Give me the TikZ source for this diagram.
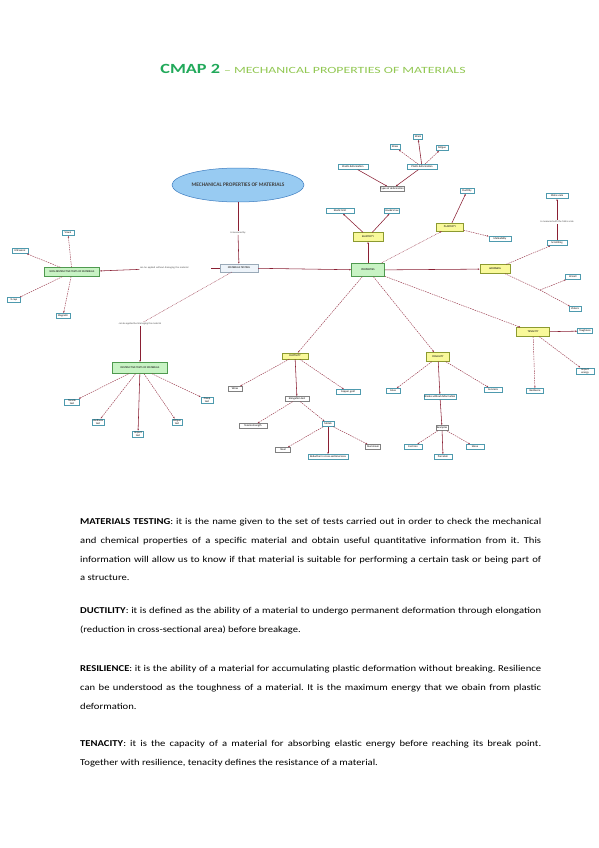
\documentclass[tikz,border=0pt]{standalone}
\usepackage{fontspec}
\setmainfont{Carlito}
\newfontfamily\bodyfont{Carlito}[FakeStretch=1.18,WordSpace={0.95,1,1.6}]
\newfontfamily\cmapfont{Carlito}[FakeStretch=1.3]
\newfontfamily\subtfont{Carlito}[FakeStretch=1.45]
\usetikzlibrary{arrows.meta,shadows,shapes.geometric}
\definecolor{lnk}{HTML}{8A1F33}
\definecolor{lnkl}{HTML}{9A3A4C}
\definecolor{leafc}{HTML}{4E9AAE}
\definecolor{greenf}{HTML}{C8F3C4}
\definecolor{greend}{HTML}{4F9A4F}
\definecolor{yellowf}{HTML}{F9F99A}
\definecolor{yellowd}{HTML}{8C9A30}
\definecolor{lightf}{HTML}{EEF4FA}
\definecolor{lightd}{HTML}{9AAAB8}
\definecolor{ellf}{HTML}{98CBF2}
\definecolor{elld}{HTML}{3C7CC0}
\definecolor{cmapg}{HTML}{21A95A}
\definecolor{titleg}{HTML}{92C853}
\tikzset{
  base/.style={inner sep=0.6pt, font=\fontsize{2.7}{3.1}\selectfont, align=center, line width=0.35pt, minimum height=5pt},
  shd/.style={drop shadow={shadow xshift=0.6pt,shadow yshift=-0.6pt,fill=black,opacity=0.8}},
  leaf/.style={base, shd, draw=leafc, fill=white},
  plainleaf/.style={base, shd, draw=black!50, fill=white},
  greenbox/.style={base, shd, draw=greend, fill=greenf, minimum height=9pt},
  yellowbox/.style={base, shd, draw=yellowd, fill=yellowf, minimum height=8pt},
  lightbox/.style={base, shd, draw=lightd, fill=lightf, minimum height=8pt},
  lbl/.style={inner sep=0.5pt, font=\fontsize{2.5}{3}\selectfont, fill=white, text=black!70},
  solidc/.style={draw=lnk, line width=0.55pt},
  dashc/.style={draw=lnkl, line width=0.45pt, dash pattern=on 1.5pt off 0.9pt},
  dotc/.style={draw=lnkl, line width=0.45pt, dash pattern=on 0.7pt off 0.8pt},
  tip/.style={-{Latex[length=2pt,width=1.6pt]}},
  para/.style={anchor=north west, text width=461pt, align=justify, inner sep=0pt, font=\bodyfont\fontsize{9}{18.65}\selectfont\frenchspacing},
}
\begin{document}
\begin{tikzpicture}[x=1pt,y=-1pt]
\useasboundingbox[fill=white] (0,0) rectangle (599,848);

% title
\node[anchor=base, inner sep=0] (title) at (313,74) {\cmapfont\fontsize{14}{16}\selectfont\bfseries\color{cmapg}CMAP 2 \subtfont\fontsize{9.5}{12}\selectfont\mdseries\color{titleg}– MECHANICAL PROPERTIES OF MATERIALS};

% main
\node[ellipse, draw=elld, fill=ellf, line width=0.5pt, minimum width=132pt, minimum height=34pt, inner sep=0pt, font=\fontsize{5.4}{6}\selectfont\bfseries, text=black!75] (mpm) at (238,185) {MECHANICAL PROPERTIES OF MATERIALS};
\node[lbl] (l1) at (238,233) {is measured by};
\node[lightbox, minimum width=38pt] (mt) at (239,268) {MATERIALS TESTING};
\node[lbl, text width=70pt] (l2) at (175,268) {can be applied without damaging the material};
\node[greenbox, minimum width=55pt] (ndt) at (72,272) {NON-DESTRUCTIVE TESTS OF MATERIALS};
\node[lbl] (l3) at (140,324) {can be applied but damaging the material};
\node[greenbox, minimum width=55pt, minimum height=11pt] (dt) at (140,368) {DESTRUCTIVE TESTS OF MATERIALS};

% non destructive children
\node[leaf, minimum width=12pt] (b1) at (68,233) {Visual};
\node[leaf, minimum width=16pt] (b2) at (20,251) {Ultrasonic};
\node[leaf, minimum width=13pt] (b3) at (14,300) {X-rays};
\node[leaf, minimum width=14pt] (b4) at (63,316) {Magnetic};

% destructive children
\node[leaf, minimum width=15pt] (c1) at (72,402) {Tensile\\test};
\node[leaf, minimum width=12pt] (c2) at (98,422) {Hardness\\test};
\node[leaf, minimum width=11pt] (c3) at (138,434) {Impact\\test};
\node[leaf, minimum width=10pt] (c4) at (177,422) {Fatigue\\test};
\node[leaf, minimum width=12pt] (c5) at (207,400) {Creep\\test};

% properties hub
\node[greenbox, minimum width=33pt, minimum height=13pt] (prop) at (368,270) {PROPERTIES};

% elasticity
\node[yellowbox, minimum width=30pt, minimum height=9pt] (el) at (368,237) {ELASTICITY};
\node[leaf, minimum width=28pt] (e1) at (340,211) {Elastic limit};
\node[leaf, minimum width=15pt] (e2) at (392,211) {Hooke's law};
\node[plainleaf, minimum width=24pt] (t0) at (392,189) {Types of deformation};
\node[leaf, minimum width=30pt] (t1) at (353,167) {Elastic deformation};
\node[leaf, minimum width=30pt] (t2) at (422,167) {Plastic deformation};
\node[leaf, minimum width=10pt] (t2a) at (395,147) {Stress};
\node[leaf, minimum width=9pt] (t2b) at (418,137) {Strain};
\node[leaf, minimum width=12pt] (t2c) at (442,148) {Fatigue};

% plasticity
\node[yellowbox, minimum width=27pt] (pl) at (450,227) {PLASTICITY};
\node[leaf, minimum width=14pt] (f1) at (467,191) {Ductility};
\node[leaf, minimum width=22pt] (f2) at (500,239) {Malleability};

% hardness
\node[yellowbox, minimum width=30pt, minimum height=9pt] (ha) at (495,269) {HARDNESS};
\node[leaf, minimum width=20pt] (g1) at (557,243) {Scratching};
\node[lbl] (lg) at (557,222) {is measured with the Mohs scale};
\node[leaf, minimum width=22pt] (g0) at (557,196) {Mohs scale};
\node[leaf, minimum width=15pt] (g2) at (573,277) {Brinell};
\node[leaf, minimum width=12pt] (g3) at (575,309) {Vickers};
\coordinate (gb) at (540,290);

% tenacity
\node[yellowbox, minimum width=33pt, minimum height=9pt] (te) at (533,332) {TENACITY};
\node[leaf, minimum width=15pt] (h1) at (585,331) {Toughness};
\node[leaf, minimum width=18pt] (h2) at (585,371) {Impact\\energy};
\node[leaf, minimum width=17pt] (h3) at (535,391) {Resilience};

% ductility
\node[yellowbox, minimum width=26pt, minimum height=6pt] (du) at (295,356) {DUCTILITY};
\node[plainleaf, minimum width=14pt] (i1) at (235,389) {Wires};
\node[leaf, minimum width=24pt] (i2) at (348,392) {Copper, gold};
\node[plainleaf, minimum width=24pt] (i3) at (297,399) {Elongation test};
\node[plainleaf, minimum width=28pt] (i4) at (253,426) {Tensile strength};
\node[leaf, minimum width=12pt] (i5) at (328,424) {Metals};
\node[plainleaf, minimum width=15pt] (i6) at (283,450) {Steel};
\node[leaf, minimum width=40pt] (i7) at (328,457) {Reduction in cross-sectional area};
\node[plainleaf, minimum width=15pt] (i8) at (373,447) {Aluminium};

% fragility
\node[yellowbox, minimum width=23pt, minimum height=9pt] (fr) at (438,357) {FRAGILITY};
\node[leaf, minimum width=14pt] (j1) at (393,391) {Glass};
\node[leaf, minimum width=18pt] (j2) at (493,390) {Ceramics};
\node[leaf, minimum width=30pt] (j3) at (440,397) {Breaks without deformation};
\node[plainleaf, minimum width=12pt] (j4) at (442,428) {Examples};
\node[leaf, minimum width=18pt] (j5) at (413,447) {Cast iron};
\node[leaf, minimum width=18pt] (j6) at (443,457) {Porcelain};
\node[leaf, minimum width=18pt] (j7) at (475,447) {Stone};

% connectors
\draw[solidc] (mpm) -- (l1);
\draw[solidc,tip] (l1) -- (mt);
\draw[solidc] (mt) -- (l2);
\draw[solidc,tip] (l2) -- (ndt);
\draw[dotc] (mt) -- (l3);
\draw[solidc,tip] (l3) -- (dt);
\foreach \n in {b1,b2,b3,b4} \draw[dashc,tip] (ndt) -- (\n);
\foreach \n in {c1,c2,c4,c5} \draw[dashc,tip] (dt) -- (\n);
\draw[solidc,tip] (dt) -- (c3);
\draw[solidc,tip] (mt) -- (prop);
\draw[solidc,tip] (prop) -- (el);
\draw[solidc,tip] (el) -- (e1);
\draw[solidc,tip] (el) -- (e2);
\draw[solidc,tip] (t1) -- (t0);
\draw[solidc,tip] (t2) -- (t0);
\draw[dashc,tip] (t2) -- (t2a);
\draw[solidc,tip] (t2) -- (t2b);
\draw[dashc,tip] (t2) -- (t2c);
\draw[dotc,tip] (prop) -- (pl);
\draw[solidc,tip] (pl) -- (f1);
\draw[dashc,tip] (pl) -- (f2);
\draw[solidc,tip] (prop) -- (ha);
\draw[dashc,tip] (ha) -- (g1);
\draw[solidc] (g1) -- (lg);
\draw[solidc,tip] (lg) -- (g0);
\draw[dashc] (ha) -- (gb);
\draw[dashc,tip] (gb) -- (g2);
\draw[dashc,tip] (gb) -- (g3);
\draw[dashc,tip] (prop) -- (te);
\draw[solidc,tip] (te) -- (h1);
\draw[dashc,tip] (te) -- (h2);
\draw[dashc,tip] (te) -- (h3);
\draw[dashc,tip] (prop) -- (du);
\draw[dashc,tip] (du) -- (i1);
\draw[dashc,tip] (du) -- (i2);
\draw[solidc,tip] (du) -- (i3);
\draw[dashc,tip] (i3) -- (i4);
\draw[dashc,tip] (i3) -- (i5);
\draw[dashc,tip] (i5) -- (i6);
\draw[solidc,tip] (i5) -- (i7);
\draw[dashc,tip] (i5) -- (i8);
\draw[dashc,tip] (prop) -- (fr);
\draw[dashc,tip] (fr) -- (j1);
\draw[dashc,tip] (fr) -- (j2);
\draw[solidc,tip] (fr) -- (j3);
\draw[solidc,tip] (j3) -- (j4);
\draw[dashc,tip] (j4) -- (j5);
\draw[solidc,tip] (j4) -- (j6);
\draw[dashc,tip] (j4) -- (j7);

% text
\node[para] (p1) at (80,518.5) {\textbf{MATERIALS TESTING}: it is the name given to the set of tests carried out in order to check the mechanical\linebreak and chemical properties of a specific material and obtain useful quantitative information from it. This\linebreak information will allow us to know if that material is suitable for performing a certain task or being part of\linebreak a structure.};
\node[para] (p2) at (80,607) {\textbf{DUCTILITY}: it is defined as the ability of a material to undergo permanent deformation through elongation\linebreak (reduction in cross-sectional area) before breakage.};
\node[para] (p3) at (80,665.5) {\textbf{RESILIENCE}: it is the ability of a material for accumulating plastic deformation without breaking. Resilience\linebreak can be understood as the toughness of a material. It is the maximum energy that we obain from plastic\linebreak deformation.};
\node[para] (p4) at (80,740.5) {\textbf{TENACITY}: it is the capacity of a material for absorbing elastic energy before reaching its break point.\linebreak Together with resilience, tenacity defines the resistance of a material.};
\end{tikzpicture}
\end{document}
